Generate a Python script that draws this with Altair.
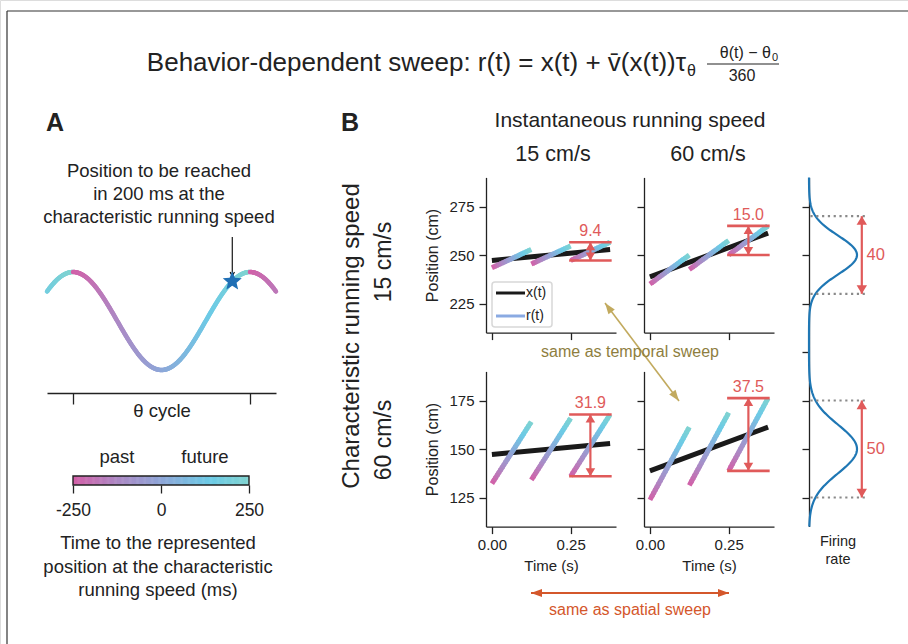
import altair as alt
import numpy as np
import pandas as pd

# ------------------------------------------------------------------ data
INST_SPEEDS = [15, 60]          # instantaneous running speed (cm/s) -> columns
CHAR_SPEEDS = [15, 60]          # characteristic running speed (cm/s) -> rows
ROW_CENTERS = [250, 150]        # x(t) in the middle of the window (cm)
T_MID = 0.1875                  # s
TAU_THETA = 0.5                 # s
THETA_PERIOD = 0.125            # s
N_CYCLES = 3
SWEEP_LABELS = [["9.4", "15.0"], ["31.9", "37.5"]]
FIELD_CENTERS = [250, 150]
FIELD_SPANS = [40, 50]
FIELD_LABELS = ["40", "50"]
ROW_DOMAINS = [[210, 290], [110, 190]]
ROW_TICKS = [[225, 250, 275], [125, 150, 175]]
FR_DOMAIN = [110, 290]
FR_TICKS = [125, 150, 175, 200, 225, 250, 275]
T_DOMAIN = [-0.01875, 0.39375]
T_TICKS = [0, 0.25]
CBAR_TICKS = [-250, 0, 250]
STAR_MS = 200
PHASE_DOMAIN = [-53, 413]
COLOR_STOPS = [-250, -125, 0, 140, 250]
COLOR_RANGE = ["#d35fa7", "#ad88c4", "#8ea6d8", "#6ccbe6", "#80d3d0"]

# ------------------------------------------------------------------ layout / style
W, H = 908, 644
FONT = "Liberation Sans"
COL_X = [486, 644]
PANEL_W = 130
ROW_PX = [[332.6, 177.4], [526.6, 371.4]]
FR_X = [809, 857]
FR_PX = [526.6, 177.4]
SINE_X = [47, 276]
SINE_Y = [370, 272]
CBAR_X = [73, 249]
CBAR_Y = [476, 485]
RED = "#e05a5a"
INK = "#222222"
OLIVE_LINE = "#c2aa5e"
OLIVE_TEXT = "#8e7e3e"
ORANGE = "#d4572b"
TS = 18.5   # body text size in panel A

AX = dict(grid=False, domainColor=INK, tickColor=INK, labelColor=INK, titleColor=INK,
          domainWidth=1.3, tickWidth=1.3, labelFlush=False, labelFontSize=15,
          titleFontSize=16, titleFontWeight="normal", labelFont=FONT, titleFont=FONT)

UP = "M0,0L0.6,1L-0.6,1Z"
DOWN = "M0,0L0.6,-1L-0.6,-1Z"
SLIM = "M0,0L0.36,1L-0.36,1Z"
CHEVRON = "M-0.55,-1L0,0L0.55,-1"
_pts = []
for i in range(10):
    rad = 1.0 if i % 2 == 0 else 0.45
    ang = np.radians(-90 + 36 * i)
    _pts.append(f"{rad * np.cos(ang):.3f},{rad * np.sin(ang):.3f}")
STAR_PATH = "M" + "L".join(_pts) + "Z"

one = pd.DataFrame({"k": [0]})
layers = []


def sc(domain, rng):
    return alt.Scale(domain=domain, range=rng, nice=False, zero=False)


cscale = alt.Scale(domain=COLOR_STOPS, range=COLOR_RANGE, interpolate="rgb")


def txt(s, x, y, size, color=INK, align="center", baseline="alphabetic", angle=0, weight="normal"):
    return alt.Chart(one).mark_text(
        text=s, x=x, y=y, fontSize=size, color=color, align=align, baseline=baseline,
        angle=angle, fontWeight=weight, font=FONT).encode(text=alt.value(s))


def prule(x1, y1, x2, y2, color, width, dash=None):
    kw = dict(color=color, strokeWidth=width)
    if dash:
        kw["strokeDash"] = dash
    return alt.Chart(one).mark_rule(**kw).encode(
        x=alt.value(x1), y=alt.value(y1), x2=alt.value(x2), y2=alt.value(y2))


def phead(x, y, angle, color, size, shape=SLIM):
    return alt.Chart(one).mark_point(shape=shape, filled=True, color=color, size=size,
                                     angle=angle, opacity=1).encode(
        x=alt.value(x), y=alt.value(y))


# ------------------------------------------------------------------ frame
layers.append(prule(7, 11, W, 11, "#333", 1.2))
layers.append(prule(7, 11, 7, H, "#333", 1.2))

# ------------------------------------------------------------------ title
layers.append(txt("Behavior-dependent sweep:  r(t) = x(t) + v\u0304(x(t))\u03c4", 686, 71, 26, align="right"))
layers.append(txt("\u03b8", 687, 76, 16, align="left"))
layers.append(txt("\u03b8(t) \u2212 \u03b8", 771, 58, 16, align="right"))
layers.append(txt("0", 772, 61, 11, align="left"))
layers.append(prule(707, 64, 779, 64, INK, 1.1))
layers.append(txt("360", 742, 81, 16))

# ------------------------------------------------------------------ panel A
layers.append(txt("A", 46, 131, 25, weight="bold", align="left"))
for i, line in enumerate(["Position to be reached", "in 200 ms at the",
                          "characteristic running speed"]):
    layers.append(txt(line, 159, 177 + 23 * i, TS))

sx = sc(PHASE_DOMAIN, SINE_X)
sy = sc([-1, 1], SINE_Y)
ph = np.clip(np.arange(-54, 416, 2.0), PHASE_DOMAIN[0], PHASE_DOMAIN[1])
ph = np.unique(ph)
sine = pd.DataFrame({
    "p0": ph[:-1], "p1": ph[1:],
    "c0": np.cos(np.radians(ph[:-1])), "c1": np.cos(np.radians(ph[1:])),
})
mid = (sine["p0"] + sine["p1"]) / 2
sine["ms"] = (np.mod(mid, 360) / 360 - 0.5) * 500
layers.append(alt.Chart(sine).mark_rule(strokeWidth=4.5, strokeCap="round").encode(
    x=alt.X("p0:Q", scale=sx, axis=alt.Axis(orient="bottom", offset=393 - H, values=[0, 360],
                                            labels=False, tickSize=11, title=None, **AX)),
    x2="p1:Q",
    y=alt.Y("c0:Q", scale=sy, axis=None),
    y2="c1:Q",
    color=alt.Color("ms:Q", scale=cscale, legend=None)))

star_phase = 360 * (STAR_MS + 250) / 500
star = pd.DataFrame({"p": [star_phase], "c": [np.cos(np.radians(star_phase))]})
layers.append(alt.Chart(star).mark_rule(color="black", strokeWidth=1.1).encode(
    x=alt.X("p:Q", scale=sx, axis=None), y=alt.value(237), y2=alt.value(276)))
layers.append(alt.Chart(star).mark_point(shape=CHEVRON, filled=False, color="black",
                                         size=64, strokeWidth=1.1, opacity=1).encode(
    x=alt.X("p:Q", scale=sx, axis=None), y=alt.value(276)))
layers.append(alt.Chart(star).mark_point(shape=STAR_PATH, filled=True, color="#1f6fb5",
                                         size=400, opacity=1).encode(
    x=alt.X("p:Q", scale=sx, axis=None), y=alt.Y("c:Q", scale=sy, axis=None)))
layers.append(txt("\u03b8 cycle", 162, 417, TS))

# colour bar
cb = np.linspace(-250, 250, 201)
cbar = pd.DataFrame({"b0": cb[:-1], "b1": np.minimum(cb[1:] + 1.5, 250), "ms": (cb[:-1] + cb[1:]) / 2})
cbx = sc([-250, 250], CBAR_X)
layers.append(alt.Chart(cbar).mark_rect().encode(
    x=alt.X("b0:Q", scale=cbx, axis=alt.Axis(orient="bottom", offset=CBAR_Y[1] - H,
                                            values=CBAR_TICKS, tickSize=8, labelPadding=8,
                                            domain=False, title=None, labelExpr="'' + datum.value",
                                            **{**AX, "labelFontSize": 17.5})),
    x2="b1:Q",
    y=alt.value(CBAR_Y[0]), y2=alt.value(CBAR_Y[1]),
    color=alt.Color("ms:Q", scale=cscale, legend=None)))
layers.append(alt.Chart(pd.DataFrame({"a": [-250], "b": [250]})).mark_rect(
    fill="transparent", stroke=INK, strokeWidth=1.4).encode(
    x=alt.X("a:Q", scale=cbx, axis=None), x2="b:Q",
    y=alt.value(CBAR_Y[0]), y2=alt.value(CBAR_Y[1])))
layers.append(txt("past", 117, 463, TS))
layers.append(txt("future", 205, 463, TS))
for i, line in enumerate(["Time to the represented", "position at the characteristic",
                          "running speed (ms)"]):
    layers.append(txt(line, 158, 549 + 23.5 * i, TS))

# ------------------------------------------------------------------ panel B labels
layers.append(txt("B", 341, 131, 25, weight="bold", align="left"))
layers.append(txt("Instantaneous running speed", 630, 127, 21))
layers.append(txt("15 cm/s", 553, 161, 21.5))
layers.append(txt("60 cm/s", 708, 161, 21.5))
layers.append(txt("Characteristic running speed", 352, 336, 24, angle=270, baseline="middle"))
layers.append(txt("15 cm/s", 384, 262, 23, angle=270, baseline="middle"))
layers.append(txt("60 cm/s", 384, 440, 23, angle=270, baseline="middle"))

# ------------------------------------------------------------------ panel B grid
NSUB = 24
for r in range(2):
    for c in range(2):
        v = INST_SPEEDS[c]
        vb = CHAR_SPEEDS[r]
        x0 = ROW_CENTERS[r]

        def xpos(t):
            return x0 + v * (np.asarray(t) - T_MID)

        xs_ = sc(T_DOMAIN, [COL_X[c], COL_X[c] + PANEL_W])
        ys_ = sc(ROW_DOMAINS[r], ROW_PX[r])
        yk = dict(orient="left", offset=-COL_X[c], values=ROW_TICKS[r], labels=(c == 0),
                  tickSize=7, labelPadding=5, **AX)
        if c == 0:
            yk.update(title="Position (cm)", titlePadding=8)
        else:
            yk.update(title=None)
        xk = dict(orient="bottom", offset=ROW_PX[r][0] - H, values=T_TICKS, labels=(r == 1),
                  format=".2f", tickSize=7, labelPadding=4, **AX)
        if r == 1:
            xk.update(title="Time (s)", titlePadding=6, titleFontSize=15)
        else:
            xk.update(title=None)

        tl = np.array([0, N_CYCLES * THETA_PERIOD])
        xl = pd.DataFrame({"t": tl, "pos": xpos(tl)})
        layers.append(alt.Chart(xl).mark_line(color="#1a1a1a", strokeWidth=5, strokeCap="butt").encode(
            x=alt.X("t:Q", scale=xs_, axis=alt.Axis(**xk)),
            y=alt.Y("pos:Q", scale=ys_, axis=alt.Axis(**yk))))

        rows = []
        for k in range(N_CYCLES):
            for j in range(NSUB):
                f0 = j / NSUB
                f1 = (j + 1) / NSUB if j == NSUB - 1 else (j + 1.6) / NSUB
                t0, t1 = (k + f0) * THETA_PERIOD, (k + f1) * THETA_PERIOD
                rows.append({
                    "t0": t0, "t1": t1,
                    "p0": float(xpos(t0)) + vb * TAU_THETA * (f0 - 0.5),
                    "p1": float(xpos(t1)) + vb * TAU_THETA * (f1 - 0.5),
                    "ms": ((j + 0.5) / NSUB - 0.5) * 500,
                })
        seg = pd.DataFrame(rows)
        layers.append(alt.Chart(seg).mark_rule(strokeWidth=5, strokeCap="butt").encode(
            x=alt.X("t0:Q", scale=xs_, axis=None), x2="t1:Q",
            y=alt.Y("p0:Q", scale=ys_, axis=None), y2="p1:Q",
            color=alt.Color("ms:Q", scale=cscale, legend=None)))

        half = vb * TAU_THETA / 2
        lower = float(xpos((N_CYCLES - 1) * THETA_PERIOD)) - half
        upper = float(xpos(N_CYCLES * THETA_PERIOD)) + half
        tm = (N_CYCLES - 0.5) * THETA_PERIOD
        bars = pd.DataFrame({"a": [0.245, 0.245], "b": [0.38, 0.38], "y": [lower, upper]})
        layers.append(alt.Chart(bars).mark_rule(color=RED, strokeWidth=2.6).encode(
            x=alt.X("a:Q", scale=xs_, axis=None), x2="b:Q",
            y=alt.Y("y:Q", scale=ys_, axis=None)))
        shaft = pd.DataFrame({"t": [tm], "lo": [lower], "hi": [upper], "lab": [SWEEP_LABELS[r][c]]})
        layers.append(alt.Chart(shaft).mark_rule(color=RED, strokeWidth=2.2).encode(
            x=alt.X("t:Q", scale=xs_, axis=None),
            y=alt.Y("lo:Q", scale=ys_, axis=None), y2="hi:Q"))
        layers.append(alt.Chart(shaft).mark_point(shape=UP, filled=True, color=RED, size=256,
                                                  opacity=1).encode(
            x=alt.X("t:Q", scale=xs_, axis=None), y=alt.Y("hi:Q", scale=ys_, axis=None)))
        layers.append(alt.Chart(shaft).mark_point(shape=DOWN, filled=True, color=RED, size=256,
                                                  opacity=1).encode(
            x=alt.X("t:Q", scale=xs_, axis=None), y=alt.Y("lo:Q", scale=ys_, axis=None)))
        layers.append(alt.Chart(shaft).mark_text(color=RED, fontSize=16, baseline="bottom",
                                                 dy=-3, font=FONT).encode(
            x=alt.X("t:Q", scale=xs_, axis=None), y=alt.Y("hi:Q", scale=ys_, axis=None),
            text="lab:N"))

# legend in the first panel
layers.append(alt.Chart(one).mark_rect(fill="white", stroke="#d8d8d8", strokeWidth=1.5,
                                       cornerRadius=3).encode(
    x=alt.value(492), x2=alt.value(552), y=alt.value(282), y2=alt.value(327)))
layers.append(prule(496, 293, 525, 293, "#1a1a1a", 3))
layers.append(prule(496, 316, 525, 316, "#8aaae2", 3))
layers.append(txt("x(t)", 526, 293, 14, align="left", baseline="middle"))
layers.append(txt("r(t)", 526, 316, 14, align="left", baseline="middle"))

# ------------------------------------------------------------------ firing rate column
frx = sc([0, 1], FR_X)
fry = sc(FR_DOMAIN, FR_PX)
yy = np.arange(FR_DOMAIN[0], FR_DOMAIN[1] + 0.01, 0.5)
rate = np.zeros_like(yy)
for mu, sp in zip(FIELD_CENTERS, FIELD_SPANS):
    rate += np.exp(-(yy - mu) ** 2 / (2 * (sp / 4) ** 2))
fr = pd.DataFrame({"pos": yy, "rate": rate})
layers.append(alt.Chart(fr).mark_line(color="#1f77b4", strokeWidth=2.2).encode(
    x=alt.X("rate:Q", scale=frx, axis=None),
    y=alt.Y("pos:Q", scale=fry, axis=alt.Axis(orient="left", offset=-FR_X[0], values=FR_TICKS,
                                              labels=False, tickSize=7, title=None, **AX)),
    order="pos:Q"))
dots = pd.DataFrame({
    "y": [FIELD_CENTERS[i] + s * FIELD_SPANS[i] / 2 for i in range(2) for s in (1, -1)],
    "a": [0.03] * 4, "b": [1.19] * 4})
layers.append(alt.Chart(dots).mark_rule(color="#8a8a8a", strokeWidth=2.2, strokeDash=[2.2, 3.6]).encode(
    x=alt.X("a:Q", scale=frx, axis=None), x2="b:Q", y=alt.Y("y:Q", scale=fry, axis=None)))
farr = pd.DataFrame({
    "x": [1.1, 1.1], "lx": [1.2, 1.2],
    "hi": [FIELD_CENTERS[i] + FIELD_SPANS[i] / 2 for i in range(2)],
    "lo": [FIELD_CENTERS[i] - FIELD_SPANS[i] / 2 for i in range(2)],
    "mu": FIELD_CENTERS, "lab": FIELD_LABELS})
layers.append(alt.Chart(farr).mark_rule(color=RED, strokeWidth=2.2).encode(
    x=alt.X("x:Q", scale=frx, axis=None), y=alt.Y("lo:Q", scale=fry, axis=None), y2="hi:Q"))
layers.append(alt.Chart(farr).mark_point(shape=UP, filled=True, color=RED, size=300,
                                         opacity=1).encode(
    x=alt.X("x:Q", scale=frx, axis=None), y=alt.Y("hi:Q", scale=fry, axis=None)))
layers.append(alt.Chart(farr).mark_point(shape=DOWN, filled=True, color=RED, size=300,
                                         opacity=1).encode(
    x=alt.X("x:Q", scale=frx, axis=None), y=alt.Y("lo:Q", scale=fry, axis=None)))
layers.append(alt.Chart(farr).mark_text(color=RED, fontSize=16.5, align="left", baseline="middle",
                                        font=FONT).encode(
    x=alt.X("lx:Q", scale=frx, axis=None), y=alt.Y("mu:Q", scale=fry, axis=None), text="lab:N"))
layers.append(txt("Firing", 838, 546, 14.5))
layers.append(txt("rate", 838, 564, 14.5))

# ------------------------------------------------------------------ comparison arrows
layers.append(prule(605, 303, 679, 401, OLIVE_LINE, 1.6))
layers.append(phead(605, 303, 323, OLIVE_LINE, 484))
layers.append(phead(679, 401, 143, OLIVE_LINE, 484))
layers.append(txt("same as temporal sweep", 630, 357, 16, color=OLIVE_TEXT))
layers.append(prule(531, 593, 729, 593, ORANGE, 1.8))
layers.append(phead(531, 593, 270, ORANGE, 484))
layers.append(phead(729, 593, 90, ORANGE, 484))
layers.append(txt("same as spatial sweep", 630, 615, 16, color=ORANGE))

chart = alt.layer(*layers).resolve_scale(
    x="independent", y="independent").resolve_axis(
    x="independent", y="independent").properties(
    width=W, height=H, padding=0, autosize=alt.AutoSizeParams(type="none"),
    background="white").configure_view(stroke=None).configure(font=FONT)

chart.save("out.html", embed_options={"renderer": "svg", "actions": False})
